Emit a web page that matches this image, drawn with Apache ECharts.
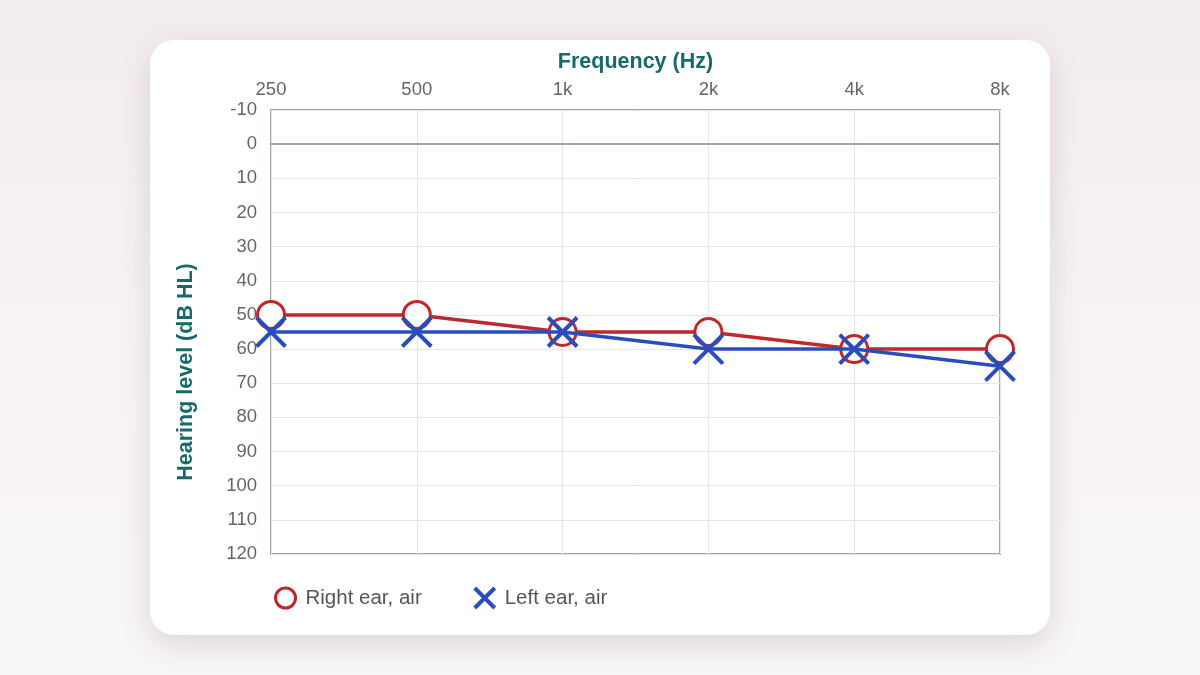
<!DOCTYPE html>
<html>
<head>
<meta charset="utf-8">
<script src="https://cdn.jsdelivr.net/npm/echarts@6/dist/echarts.min.js"></script>
<style>
  html, body { margin: 0; padding: 0; width: 1200px; height: 675px; overflow: hidden; }
  body { background: linear-gradient(180deg, #f3ecec 0%, #f8f4f4 60%, #f8f6f6 100%); font-family: Arial, "Liberation Sans", sans-serif; }
  .card { position: absolute; left: 150px; top: 40px; width: 900px; height: 595px; background: #fff; border-radius: 24px; box-shadow: 0 10px 30px rgba(120, 90, 100, 0.2); }
  #chartBox { position: absolute; left: 0; top: 0; width: 1200px; height: 675px; }
</style>
</head>
<body>
<div class="card"></div>
<div id="chartBox"></div>
<script>
// audiogram values
const frequencies = ['250', '500', '1k', '2k', '4k', '8k']
const rightEarAir = [50, 50, 55, 55, 60, 60]
const leftEarAir = [55, 55, 55, 60, 60, 65]
const levelMin = -10
const levelMax = 120

const RED = '#c0282d'
const BLUE = '#2a4dbd'
const TEAL = '#17696a'
const CROSS = 'path://M0,0L10,10M10,0L0,10'

const myChart = echarts.init(document.getElementById('chartBox'))

const chartOptions = {
  backgroundColor: 'transparent',
  textStyle: { fontFamily: 'Arial, Liberation Sans, sans-serif' },
  grid: {
    left: 271, top: 110, width: 729, height: 444,
    show: true, borderColor: '#a2a7aa', borderWidth: 2, backgroundColor: 'transparent'
  },
  legend: {
    left: 269, top: 581, itemGap: 51, itemWidth: 20, itemHeight: 20,
    textStyle: { fontSize: 20.5, color: '#555', padding: [0, 0, 0, 5] },
    data: [
      { name: 'Right ear, air', icon: 'circle', itemStyle: { color: '#fff', borderColor: RED, borderWidth: 3 } },
      { name: 'Left ear, air', icon: CROSS, itemStyle: { color: BLUE, borderColor: BLUE, borderWidth: 4 } }
    ]
  },
  xAxis: {
    type: 'category', position: 'top', boundaryGap: false, data: frequencies,
    name: 'Frequency (Hz)', nameLocation: 'middle', nameGap: 37,
    nameTextStyle: { color: TEAL, fontSize: 21.5, fontWeight: 'bold' },
    axisLine: { show: false }, axisTick: { show: false },
    axisLabel: { color: '#666', fontSize: 18.5, margin: 11 },
    splitLine: { show: true, lineStyle: { color: '#e2e6e8', width: 1 } }
  },
  yAxis: {
    type: 'value', inverse: true, min: levelMin, max: levelMax, interval: 10,
    axisLine: { show: false }, axisTick: { show: false },
    axisLabel: { color: '#666', fontSize: 18.5, margin: 14, padding: [3, 0, 0, 0] },
    splitLine: { show: true, lineStyle: { color: '#e2e6e8', width: 1 } }
  },
  graphic: [{
    type: 'text', x: 186, y: 372, rotation: Math.PI / 2,
    style: {
      text: 'Hearing level (dB HL)', fill: TEAL, fontSize: 21.5, fontWeight: 'bold',
      fontFamily: 'Arial, Liberation Sans, sans-serif', align: 'center', verticalAlign: 'middle'
    }
  }],
  series: [
    {
      name: 'Right ear, air', type: 'line', data: rightEarAir,
      symbol: 'circle', symbolSize: 27,
      lineStyle: { color: RED, width: 3.5 },
      itemStyle: { color: '#fff', borderColor: RED, borderWidth: 3 },
      markLine: {
        silent: true, symbol: 'none', label: { show: false },
        lineStyle: { color: '#a2a7aa', width: 2, type: 'solid' },
        data: [{ yAxis: 0 }]
      },
      z: 3
    },
    {
      name: 'Left ear, air', type: 'line', data: leftEarAir,
      symbol: CROSS, symbolSize: 29,
      lineStyle: { color: BLUE, width: 3.5 },
      itemStyle: { color: BLUE, borderColor: BLUE, borderWidth: 4 },
      z: 4
    }
  ]
}

myChart.setOption(chartOptions)
</script>
</body>
</html>
